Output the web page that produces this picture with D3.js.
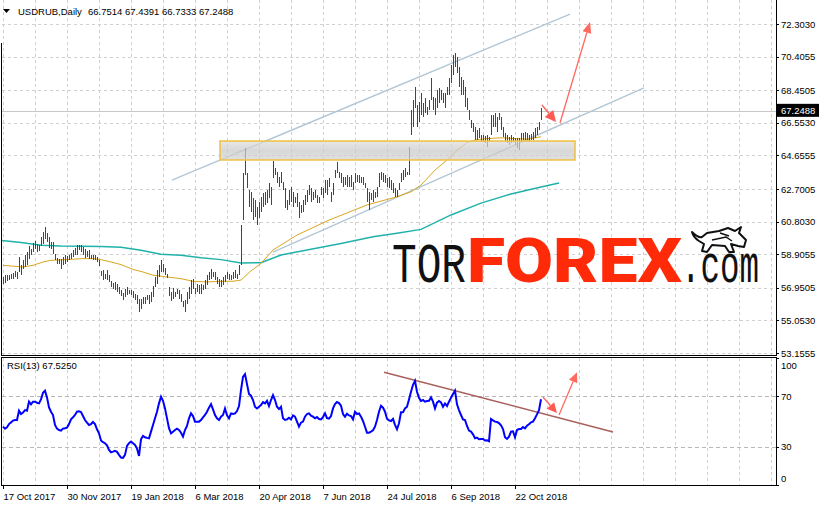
<!DOCTYPE html>
<html><head><meta charset="utf-8">
<script src="https://cdn.jsdelivr.net/npm/d3@7"></script>
<style>
body{margin:0;background:#fff}
svg{display:block}
text{font-family:"Liberation Sans",Arial,sans-serif;fill:#000}
</style>
</head><body>
<svg id="c" width="819" height="506"></svg>
<script>
// ---------- DATA ----------
const highs=[
57.58,57.68,57.68,57.71,57.77,57.83,57.91,57.87,58.74,58.26,
58.55,58.84,59.03,59.38,59.23,59.58,59.65,59.52,59.46,59.91,
60.20,60.49,60.16,59.91,59.62,59.62,58.94,58.68,58.65,58.61,
58.74,58.84,58.78,58.88,58.99,59.13,59.27,59.42,59.46,59.42,
59.32,59.23,59.07,59.13,58.88,58.84,58.84,58.74,58.55,57.91,
58.01,57.77,57.97,57.68,57.33,57.23,57.29,57.19,57.00,56.80,
56.67,56.90,57.00,56.80,56.80,56.74,56.61,56.51,56.32,56.32,
56.41,56.41,56.51,56.51,56.71,57.05,57.58,57.97,58.26,58.55,
58.35,58.10,57.77,57.00,56.71,56.94,56.71,56.90,56.80,56.61,
56.16,56.22,56.71,57.00,57.38,57.48,56.94,57.19,57.09,57.19,
57.13,57.38,57.68,57.87,58.06,57.87,57.87,57.58,57.48,57.38,
57.58,57.68,57.87,57.77,57.68,57.87,57.97,57.77,58.30,60.60,
63.61,65.06,63.61,62.64,62.54,62.16,62.06,61.67,61.96,62.25,
62.45,62.54,62.64,63.03,62.83,64.35,63.90,63.71,63.42,63.71,
63.13,62.74,62.06,62.64,62.83,62.54,62.25,62.45,61.96,61.77,
62.06,62.35,62.64,62.93,62.74,62.54,62.64,62.35,62.25,62.83,
62.74,63.22,63.22,63.32,62.54,63.03,63.80,64.29,63.71,63.61,
63.42,63.42,63.51,63.42,63.51,63.13,63.61,63.51,63.51,63.42,
63.42,63.03,62.74,62.54,62.45,62.64,62.54,62.83,63.61,63.71,
63.61,63.51,63.32,63.42,63.22,63.03,62.74,62.64,63.03,63.61,
63.80,63.90,63.71,65.16,67.30,67.88,68.65,67.59,67.78,68.27,
67.69,67.98,67.49,67.88,69.14,68.07,67.98,68.46,68.56,68.46,
68.27,68.27,68.65,69.14,69.92,70.50,70.60,70.40,69.82,69.24,
69.04,68.65,67.98,67.30,66.71,66.52,66.33,66.13,66.23,65.84,
65.84,65.80,65.84,65.74,67.01,67.01,67.10,66.91,67.10,66.91,
66.33,65.94,65.84,65.74,65.84,65.74,65.65,65.65,65.65,65.94,
65.94,66.04,65.94,65.84,65.88,66.00,66.23,66.33,66.62,67.44];
const lows=[
57.19,57.25,57.33,57.38,57.44,57.48,57.58,57.44,57.87,57.68,
58.06,58.16,58.30,58.65,58.84,59.03,59.23,59.03,59.07,59.38,
59.52,59.81,59.62,59.27,59.23,58.94,58.55,58.35,58.32,58.06,
58.26,58.35,58.45,58.55,58.65,58.74,58.84,58.88,59.13,59.03,
58.84,58.68,58.74,58.65,58.65,58.55,58.55,58.45,58.22,57.64,
57.38,57.48,57.38,57.29,57.00,56.90,56.80,56.71,56.61,56.47,
56.22,56.41,56.51,56.61,56.51,56.36,56.22,56.03,55.54,55.74,
56.03,56.03,56.22,56.03,56.12,56.41,57.00,57.19,57.58,57.87,
57.87,57.68,57.52,56.47,56.18,56.32,56.41,56.61,56.32,56.12,
55.83,55.54,56.03,56.32,56.61,56.90,56.61,56.71,56.61,56.61,
56.80,56.90,57.09,57.38,57.48,57.58,57.38,57.19,57.00,57.00,
57.09,57.29,57.48,57.38,57.38,57.48,57.52,57.48,57.68,58.30,
60.89,63.51,62.74,61.67,61.38,60.89,61.09,60.60,60.99,61.38,
61.67,61.77,61.86,62.16,61.77,63.32,63.51,63.03,62.83,63.03,
62.64,61.57,61.48,61.77,61.96,61.67,61.86,61.67,60.99,61.28,
61.38,61.77,61.96,62.35,61.96,62.06,62.16,61.86,61.86,62.35,
62.16,62.45,62.35,62.83,61.96,62.35,63.32,63.61,63.32,63.03,
62.83,62.93,62.83,62.83,62.83,62.64,63.03,63.13,63.03,63.03,
62.93,62.74,61.96,61.48,62.06,61.96,62.16,62.25,62.83,63.22,
63.13,63.03,62.83,62.74,62.64,62.45,62.25,62.25,62.64,63.13,
63.22,63.42,63.51,63.51,65.84,66.33,67.39,66.33,66.62,67.01,
66.91,67.10,67.01,67.30,67.88,67.30,67.01,67.39,67.69,67.88,
67.69,67.39,68.17,68.17,68.85,69.33,69.82,69.43,68.65,68.17,
68.17,67.49,67.30,66.71,66.23,66.04,65.55,65.55,65.65,65.45,
65.45,65.36,65.16,65.41,65.84,66.33,66.33,66.04,66.71,66.13,
65.74,65.45,65.36,65.26,65.36,65.45,65.26,65.07,64.97,65.45,
65.55,65.55,65.55,65.45,65.55,65.55,65.69,65.84,66.13,66.73];
const ups=[
1,1,1,1,1,1,1,0,1,0, 1,1,1,1,0,1,1,0,0,1, 1,0,0,0,0,0,0,0,1,0,
0,1,1,0,1,1,1,1,0,0, 0,1,0,0,1,0,0,0,0,0, 1,0,0,0,1,0,0,0,0,0,
0,1,1,0,0,0,0,0,0,1, 1,0,0,0,1,1,0,1,1,1, 0,0,0,0,0,0,0,0,0,0,
1,1,1,1,1,1,0,0,0,0, 0,1,1,1,1,0,0,0,0,0, 1,0,1,1,0,1,1,0,1,1,
1,0,1,0,0,1,0,1,1,1, 1,1,0,1,0,1,0,0,0,1, 0,0,0,1,0,0,0,0,0,0,
1,1,1,1,0,0,1,0,0,1, 0,1,0,0,1,1,1,0,1,0, 0,0,0,0,1,1,1,0,0,0,
0,1,0,0,0,0,0,1,1,1, 0,0,0,0,0,0,0,1,1,1, 1,0,1,1,1,1,0,1,1,0,
1,1,0,1,0,1,0,1,1,0, 1,1,1,0,1,1,0,0,0,0, 0,0,0,0,0,0,0,1,0,0,
1,1,1,1,1,1,0,0,1,0, 0,1,0,0,1,0,0,0,1,0, 0,0,0,1,1,1,1,1,1,1];
const rsi=[
46.0,44.4,45.4,48.0,49.3,50.7,51.2,51.2,58.5,55.9,
57.0,59.0,58.5,65.6,63.5,65.6,65.6,64.8,64.3,67.4,
72.6,74.2,69.0,61.1,57.7,55.1,47.3,44.4,43.3,42.8,
44.4,44.7,45.2,48.0,51.7,53.3,55.1,57.7,58.0,57.5,
54.3,51.2,49.1,47.3,48.0,49.6,48.0,43.9,40.7,35.0,
33.7,32.9,31.3,27.6,25.8,26.3,26.9,26.1,23.7,21.6,
21.4,23.7,30.8,32.9,34.2,32.9,31.6,28.7,22.9,36.0,
38.6,37.6,37.1,36.8,42.0,47.3,52.5,57.7,64.3,69.5,
66.3,60.3,52.5,44.7,40.7,42.0,43.3,44.4,43.3,41.2,
38.1,43.3,46.5,52.5,56.4,54.3,49.9,49.9,49.9,51.2,
53.3,55.1,57.7,60.9,63.7,59.5,55.1,52.5,51.2,53.8,
55.1,60.3,54.8,52.5,56.4,55.9,56.4,58.2,62.2,74.7,
85.2,87.3,79.4,71.6,70.3,66.9,61.6,60.3,61.6,63.0,
65.3,64.3,66.3,62.2,66.9,70.8,66.9,61.6,59.8,61.6,
52.5,51.2,51.7,53.0,51.7,54.8,53.8,49.9,46.0,49.1,
49.9,53.8,55.9,56.4,54.6,53.8,52.5,53.5,52.0,51.7,
53.5,56.4,52.7,52.2,54.3,60.3,63.7,65.3,64.5,62.4,
55.9,53.8,56.1,54.8,54.3,51.7,57.7,55.9,56.4,53.8,
50.4,45.9,41.2,41.2,42.0,43.1,45.9,51.2,57.7,62.4,
60.9,57.7,52.2,50.9,50.4,52.0,47.3,43.9,48.6,57.2,
57.2,60.3,61.6,67.4,73.4,78.9,82.0,73.4,68.7,66.1,
66.9,65.6,66.1,66.3,69.0,65.6,60.3,64.8,66.1,65.0,
61.6,64.2,62.2,65.6,68.7,71.6,74.2,63.5,59.0,55.1,
51.7,51.2,46.5,42.8,42.0,39.9,36.8,37.3,36.0,36.3,
36.3,35.0,35.2,34.5,52.0,50.9,49.9,49.6,48.8,47.0,
44.1,37.6,36.3,38.1,42.0,42.3,37.6,43.3,44.1,44.1,
45.7,44.6,46.7,47.8,49.4,49.9,52.5,55.6,59.0,67.53];
// moving averages, read at key bars
const maFastIdx=[0,10,15,20,24,32,40,45,49,54,59,65,70,75,82,89,95,102,109,115,119,124,129,135,147,163,182,197,204,209,216,222,227,232,237,242,249,255,262,269];
const maFastVal=[58.26,58.16,58.26,58.45,58.55,58.59,58.65,58.65,58.59,58.45,58.30,58.02,57.87,57.68,57.58,57.48,57.33,57.29,57.33,57.33,57.40,57.93,58.37,59.15,60.02,60.89,61.77,62.25,62.54,62.93,63.80,64.39,64.95,65.40,65.58,65.63,65.68,65.64,65.60,65.74];
const maSlowIdx=[-1,9,19,29,49,59,69,79,89,99,109,119,129,139,152,169,185,197,209,224,239,254,269,278];
const maSlowVal=[59.71,59.58,59.42,59.38,59.36,59.31,59.13,58.90,58.84,58.70,58.59,58.39,58.41,58.86,59.15,59.53,59.92,60.12,60.35,61.19,61.88,62.41,62.82,63.05];
const priceTicks=[72.3030,70.4055,68.4505,66.5530,64.6555,62.7005,60.8030,58.9055,56.9505,55.0530,53.1555];
const rsiTicks=[100,70,30,0];
const rsiLevels=[70,30];
const dateLabels=["17 Oct 2017","30 Nov 2017","19 Jan 2018","6 Mar 2018","20 Apr 2018","7 Jun 2018","24 Jul 2018","6 Sep 2018","22 Oct 2018"];
const dateIdx=[0,32,64,96,128,160,192,224,256];
const lastPrice=67.2488;
const symbolText="USDRUB,Daily";
const ohlcText="66.7514 67.4391 66.7333 67.2488";
const rsiText="RSI(13) 67.5250";
// annotations (bar index, value)
const channelUpper=[[84.5,63.22],[283.5,72.88]];
const channelLower=[[135,59.03],[320.5,68.58]];
const zoneBox=[[108.5,65.49],[286,64.39]];
const priceArrowSmall=[[269.5,67.59],[276.5,66.60]];
const priceArrowBig=[[278.5,66.54],[293.5,72.42]];
const rsiTrend=[[190.5,88.8],[305,41.8]];
const rsiArrowSmall=[[270,69.2],[277,56.7]];
const rsiArrowBig=[[278,55.1],[287,88.8]];

// ---------- SCALES ----------
const svg=d3.select("#c");
const W=819,H=506, L=2, R=776, mainTop=0, mainBot=355, rTop=358, rBot=485;
const x=d3.scaleLinear().domain([0,386.5]).range([3,776]);
const y=d3.scaleLinear().domain([53.1555,72.3030]).range([353,24]);
const yr=d3.scaleLinear().domain([0,100]).range([rBot,rTop]);

svg.append("rect").attr("width",W).attr("height",H).attr("fill","#fff");
const defs=svg.append("defs");
defs.append("clipPath").attr("id","cm").append("rect").attr("x",L).attr("y",mainTop).attr("width",R-L).attr("height",mainBot-mainTop);
defs.append("clipPath").attr("id","cr").append("rect").attr("x",L).attr("y",rTop).attr("width",R-L).attr("height",rBot-rTop);
const gr=defs.append("linearGradient").attr("id","zg").attr("x1",0).attr("y1",0).attr("x2",0).attr("y2",1);
gr.append("stop").attr("offset","0%").attr("stop-color","#dedede");
gr.append("stop").attr("offset","50%").attr("stop-color","#c9c9c9");
gr.append("stop").attr("offset","100%").attr("stop-color","#d4d4d4");

// ---------- GRID ----------
const gridIdx=d3.range(0,387,16);
const grid=svg.append("g").attr("stroke","#d0d0d0").attr("stroke-dasharray","3,3").attr("shape-rendering","crispEdges");
gridIdx.forEach(i=>{
  const xx=Math.round(x(i))+0.5;
  grid.append("line").attr("x1",xx).attr("x2",xx).attr("y1",mainTop).attr("y2",mainBot);
  grid.append("line").attr("x1",xx).attr("x2",xx).attr("y1",rTop).attr("y2",rBot);
});
priceTicks.forEach(p=>{
  const yy=Math.round(y(p))+0.5;
  grid.append("line").attr("x1",L).attr("x2",R).attr("y1",yy).attr("y2",yy);
});
rsiLevels.forEach(l=>{
  const yy=Math.round(yr(l))+0.5;
  svg.append("line").attr("x1",L).attr("x2",R).attr("y1",yy).attr("y2",yy)
    .attr("stroke","#b8b8b8").attr("stroke-dasharray","4,3").attr("shape-rendering","crispEdges");
});
// bid line
svg.append("line").attr("x1",L).attr("x2",R).attr("y1",Math.round(y(lastPrice))+0.5).attr("y2",Math.round(y(lastPrice))+0.5)
  .attr("stroke","#c8c8c8").attr("shape-rendering","crispEdges");

// ---------- MAIN PANEL ----------
const gm=svg.append("g").attr("clip-path","url(#cm)");
const seg=(g,pts,color,w)=>g.append("line").attr("x1",x(pts[0][0])).attr("y1",y(pts[0][1]))
   .attr("x2",x(pts[1][0])).attr("y2",y(pts[1][1])).attr("stroke",color).attr("stroke-width",w);
seg(gm,channelUpper,"#b3c7d6",1.4);
seg(gm,channelLower,"#b3c7d6",1.4);

const lineP=d3.line().x(d=>x(d[0])).y(d=>y(d[1]));
gm.append("path").datum(maSlowIdx.map((d,i)=>[d,maSlowVal[i]])).attr("d",lineP)
  .attr("fill","none").attr("stroke","#20B2AA").attr("stroke-width",1.5);
gm.append("path").datum(maFastIdx.map((d,i)=>[d,maFastVal[i]])).attr("d",lineP)
  .attr("fill","none").attr("stroke","#DAA520").attr("stroke-width",1);

const bars=highs.map((h,i)=>({i,h,l:lows[i],u:ups[i]}));
gm.append("g").attr("shape-rendering","crispEdges").selectAll("rect").data(bars).join("rect")
  .attr("x",d=>Math.round(x(d.i))).attr("y",d=>y(d.h)).attr("width",1)
  .attr("height",d=>Math.max(1,y(d.l)-y(d.h)))
  .attr("fill",d=>d.u?"#2F4F4F":"#E5000A");

// zone rectangle
gm.append("rect").attr("x",x(zoneBox[0][0])).attr("y",y(zoneBox[0][1]))
  .attr("width",x(zoneBox[1][0])-x(zoneBox[0][0])).attr("height",y(zoneBox[1][1])-y(zoneBox[0][1]))
  .attr("fill","url(#zg)").attr("fill-opacity",0.72).attr("stroke","#EFC24A").attr("stroke-width",1.6);

// arrows
function arrow(g,pts,ys,color,hl,hw,w){
  const x1=x(pts[0][0]),y1=ys(pts[0][1]),x2=x(pts[1][0]),y2=ys(pts[1][1]);
  const dx=x2-x1,dy=y2-y1,len=Math.hypot(dx,dy),ux=dx/len,uy=dy/len;
  const bx=x2-ux*hl,by=y2-uy*hl;
  g.append("line").attr("x1",x1).attr("y1",y1).attr("x2",bx).attr("y2",by).attr("stroke",color).attr("stroke-width",w);
  g.append("path").attr("d",`M${x2},${y2}L${bx-uy*hw/2},${by+ux*hw/2}L${bx+uy*hw/2},${by-ux*hw/2}Z`).attr("fill",color);
}
arrow(svg,priceArrowSmall,y,"#FF5B52",11,11,1.3);
arrow(svg,priceArrowBig,y,"#FF6A60",11,9,1.3);

// ---------- LOGO ----------
const logo=svg.append("g");
function fitText(txt,x0,base,width,family,size,weight,color){
  const t=logo.append("text").attr("x",0).attr("y",0)
    .style("font-family",family).style("font-size",size+"px").style("font-weight",weight).style("fill",color).text(txt);
  const w=t.node().getComputedTextLength();
  t.attr("transform",`translate(${x0},${base}) scale(${width/w},1)`);
}
fitText("TOR",392,282,74,"'Liberation Mono','DejaVu Sans Mono',monospace",55,"normal","#111");
fitText("FOREX",467,282,215,"Roboto,Inter,'Open Sans',sans-serif",61,"900","#FF2A08");
fitText(".com",681,282,78,"'Liberation Mono','DejaVu Sans Mono',monospace",54,"normal","#111");
// bull icon
logo.append("path").attr("d","M692,232 C696,236 699,238 702,237 L707,233 L719,231 L728,228 L735,231 L741,227 L739,233 L746,240 L744,247 L738,246 L731,244 L734,252 L729,252 L725,246 L712,245 L707,252 L702,251 L704,244 L699,241 C696,239 693,236 692,232 Z")
  .attr("fill","#fff").attr("stroke","#111").attr("stroke-width",2).attr("stroke-linejoin","round");
logo.append("path").attr("d","M712,240 L726,237 L732,241 M720,233 L729,236").attr("fill","none").attr("stroke","#111").attr("stroke-width",1.5);

// ---------- RSI PANEL ----------
const grs=svg.append("g").attr("clip-path","url(#cr)");
grs.append("line").attr("x1",x(rsiTrend[0][0])).attr("y1",yr(rsiTrend[0][1])).attr("x2",x(rsiTrend[1][0])).attr("y2",yr(rsiTrend[1][1]))
  .attr("stroke","#A8605A").attr("stroke-width",1.5);
grs.append("path").datum(rsi).attr("d",d3.line().x((d,i)=>x(i)).y(d=>yr(d)))
  .attr("fill","none").attr("stroke","#0000FF").attr("stroke-width",2);
arrow(svg,rsiArrowSmall,yr,"#FF5B52",10,10,1.3);
arrow(svg,rsiArrowBig,yr,"#FF6A60",10,9,1.3);

// ---------- FRAMES ----------
const fr=svg.append("g").attr("stroke","#000").attr("fill","none").attr("shape-rendering","crispEdges");
fr.append("line").attr("x1",1.5).attr("x2",1.5).attr("y1",43).attr("y2",mainBot);
fr.append("line").attr("x1",R+0.5).attr("x2",R+0.5).attr("y1",0).attr("y2",mainBot);
fr.append("line").attr("x1",1).attr("x2",R+1).attr("y1",mainBot+0.5).attr("y2",mainBot+0.5);
fr.append("rect").attr("x",1.5).attr("y",rTop-0.5).attr("width",R-1).attr("height",rBot-rTop+0.5);

// ---------- AXES ----------
const ay=svg.append("g").attr("transform",`translate(${R},0)`)
  .call(d3.axisRight(y).tickValues(priceTicks).tickSize(3).tickPadding(2).tickFormat(d3.format(".4f")));
const ar=svg.append("g").attr("transform",`translate(${R},0)`)
  .call(d3.axisRight(yr).tickValues(rsiTicks).tickSize(3).tickPadding(2).tickFormat(d3.format("d")));
ar.selectAll(".tick text").attr("dy",d=>d===100?"1.1em":d===0?"-0.35em":"0.32em");
const ax=svg.append("g").attr("transform",`translate(0,${rBot})`)
  .call(d3.axisBottom(x).tickValues(dateIdx).tickSize(4).tickPadding(4).tickFormat((d,i)=>dateLabels[i]));
ax.selectAll(".tick text").attr("text-anchor","start").attr("x",0);
[ay,ar,ax].forEach(a=>{
  a.select(".domain").remove();
  a.selectAll("text").style("font-family","'Liberation Sans',Arial,sans-serif").style("font-size","9.5px").style("fill","#000");
  a.selectAll("line").attr("stroke","#000").attr("shape-rendering","crispEdges");
});

// last price box
const lp=svg.append("g").attr("transform",`translate(${R+1},${y(lastPrice)})`);
lp.append("rect").attr("x",0).attr("y",-7).attr("width",42).attr("height",13).attr("fill","#000");
lp.append("text").attr("x",4).attr("y",0).attr("dy","0.34em").style("font-size","9.5px").style("fill","#fff").text(lastPrice.toFixed(4));

// ---------- HEADERS ----------
svg.append("path").attr("d","M3,9 L10,9 L6.5,13 Z").attr("fill","#000");
svg.append("text").attr("x",18).attr("y",15).style("font-size","9.5px").text(symbolText);
svg.append("text").attr("x",88).attr("y",15).style("font-size","9.5px").text(ohlcText);
svg.append("text").attr("x",7).attr("y",369).style("font-size","9.5px").text(rsiText);
</script>
</body></html>
